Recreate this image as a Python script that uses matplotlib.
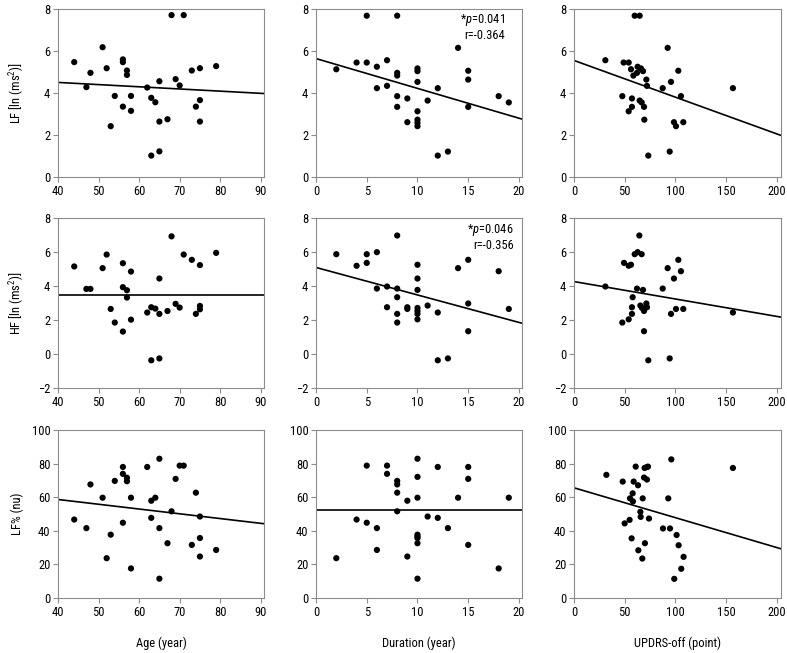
import matplotlib
matplotlib.use("Agg")
import matplotlib.pyplot as plt
from matplotlib import font_manager
import numpy as np

# ---------------- data ----------------
age_lf = [44, 47, 48, 51, 52, 53, 54, 56, 56, 56, 57, 57, 58, 58, 62, 63, 63, 64, 65, 65, 65, 67, 68, 69, 70, 71, 73, 74, 75, 75, 75, 79]
lf_age = [5.47, 4.28, 4.96, 6.18, 5.18, 2.42, 3.86, 5.6, 5.47, 3.35, 5.07, 4.86, 3.86, 3.15, 4.26, 3.77, 1.02, 3.56, 4.56, 2.64, 1.22, 2.75, 7.71, 4.66, 4.36, 7.71, 5.07, 3.35, 5.18, 3.66, 2.64, 5.28]

dur_lf = [2, 4, 5, 5, 6, 6, 7, 7, 8, 8, 8, 8, 8, 9, 9, 10, 10, 10, 10, 10, 10, 10, 11, 12, 12, 13, 14, 15, 15, 15, 18, 19]
lf_dur = [5.13, 5.45, 7.68, 5.45, 5.25, 4.23, 5.56, 4.34, 7.68, 4.96, 4.83, 3.85, 3.34, 3.74, 2.61, 5.17, 5.04, 4.53, 3.13, 2.73, 2.58, 2.42, 3.64, 4.23, 1.02, 1.21, 6.15, 5.06, 4.64, 3.34, 3.85, 3.55]

updrs_lf = [30.9, 47.6, 48.9, 53.9, 53.9, 56.2, 57.1, 57.1, 58.5, 59.8, 62.1, 62.7, 64.7, 64.7, 66.0, 66.7, 68.0, 69.0, 69.3, 71.3, 71.9, 73.2, 87.4, 92.3, 94.3, 95.6, 98.5, 100.5, 102.8, 105.4, 107.7, 156.6]
lf_updrs = [5.56, 3.85, 5.45, 5.45, 3.13, 5.13, 3.74, 3.34, 4.83, 7.68, 4.96, 5.25, 7.68, 3.64, 5.17, 3.55, 5.04, 3.34, 2.73, 4.64, 4.34, 1.02, 4.23, 6.15, 1.21, 4.53, 2.61, 2.42, 5.06, 3.85, 2.61, 4.23]

age_hf = [44, 47, 48, 51, 52, 53, 54, 56, 56, 56, 57, 57, 58, 58, 62, 63, 63, 64, 65, 65, 65, 67, 68, 69, 70, 71, 73, 74, 75, 75, 75, 79]
hf_age = [5.15, 3.83, 3.83, 5.05, 5.85, 2.65, 1.85, 5.34, 3.93, 1.32, 3.75, 3.32, 4.85, 2.02, 2.44, 2.75, -0.37, 2.67, 4.44, 2.36, -0.26, 2.53, 6.92, 2.95, 2.73, 5.85, 5.54, 2.36, 5.23, 2.83, 2.63, 5.95]

dur_hf = [2, 4, 5, 5, 6, 6, 7, 7, 8, 8, 8, 8, 8, 9, 9, 10, 10, 10, 10, 10, 10, 10, 11, 12, 12, 13, 14, 15, 15, 15, 18, 19]
hf_dur = [5.87, 5.19, 5.87, 5.36, 5.99, 3.85, 3.97, 2.75, 6.97, 3.85, 3.34, 2.36, 1.85, 2.75, 2.65, 5.25, 4.44, 3.77, 2.71, 2.53, 2.36, 2.04, 2.85, 2.44, -0.37, -0.26, 5.05, 5.54, 2.97, 1.34, 4.87, 2.65]

updrs_hf = [30.9, 47.6, 49.3, 53.9, 53.9, 56.2, 57.1, 57.1, 57.8, 59.8, 62.1, 62.7, 64.4, 65.4, 66.7, 67.0, 68.0, 69.0, 69.0, 71.3, 71.9, 73.2, 87.4, 92.3, 94.3, 95.6, 98.5, 100.5, 102.8, 105.4, 107.7, 156.6]
hf_updrs = [3.97, 1.85, 5.36, 2.04, 5.19, 5.25, 2.36, 2.75, 3.34, 5.87, 3.85, 5.99, 6.97, 2.85, 5.87, 2.71, 3.77, 2.53, 1.34, 2.97, 2.75, -0.37, 3.85, 5.05, -0.26, 2.36, 4.44, 2.65, 5.54, 4.87, 2.65, 2.44]

age_pct = [44, 47, 48, 51, 52, 53, 54, 56, 56, 56, 57, 57, 58, 58, 62, 63, 63, 64, 65, 65, 65, 67, 68, 69, 70, 71, 73, 74, 75, 75, 75, 79]
pct_age = [46.7, 41.6, 67.6, 59.7, 23.7, 37.7, 69.7, 78.0, 73.9, 44.8, 71.6, 69.5, 59.7, 17.6, 78.0, 57.9, 47.7, 59.7, 82.9, 41.6, 11.5, 32.6, 51.6, 70.9, 78.8, 78.8, 31.6, 62.7, 48.5, 35.7, 24.7, 28.6]

dur_pct = [2, 4, 5, 5, 6, 6, 7, 7, 8, 8, 8, 8, 9, 9, 10, 10, 10, 10, 10, 10, 10, 10, 11, 12, 12, 13, 14, 15, 15, 15, 18, 19]
pct_dur = [23.7, 46.7, 78.8, 44.8, 41.6, 28.6, 78.8, 73.9, 69.7, 67.6, 62.7, 51.6, 57.9, 24.7, 82.9, 72.1, 59.7, 37.7, 36.5, 35.7, 32.6, 11.5, 48.5, 78.0, 47.7, 41.6, 59.7, 78.0, 70.9, 31.6, 17.6, 59.7]

updrs_pct = [31.9, 48.0, 49.9, 54.8, 55.2, 56.8, 57.8, 58.1, 58.8, 60.8, 63.1, 63.4, 65.4, 65.7, 67.3, 67.7, 69.0, 69.6, 69.9, 71.9, 71.9, 72.9, 73.9, 87.7, 92.9, 94.6, 95.9, 98.8, 101.1, 103.1, 105.7, 108.0, 156.6]
pct_updrs = [73.3, 69.3, 44.4, 46.5, 59.3, 35.5, 62.3, 57.5, 69.3, 78.2, 67.1, 28.4, 51.3, 48.3, 23.5, 59.3, 71.7, 77.4, 32.6, 70.5, 78.0, 78.2, 47.3, 41.4, 59.3, 41.4, 82.5, 11.4, 37.5, 31.4, 17.4, 24.5, 77.4]

# fitted lines: (intercept at x=0, slope)
fit_lines = [
    [(4.92, -0.0104), (5.64, -0.142), (5.55, -0.0175)],
    [(3.46, 0.0), (5.09, -0.1616), (4.26, -0.01025)],
    [(70.0, -0.284), (52.4, 0.0), (65.6, -0.178)],
]

annotations = {(0, 1): ("0.041", "-0.364", 18.6, 7.14),
               (1, 1): ("0.046", "-0.356", 19.5, 6.87)}

row_labels = ["LF [ln (ms$^{2}$)]", "HF [ln (ms$^{2}$)]", "LF% (nu)"]
col_labels = ["Age (year)", "Duration (year)", "UPDRS-off (point)"]
x_ticks = [[40, 50, 60, 70, 80, 90], [0, 5, 10, 15, 20], [0, 50, 100, 150, 200]]
y_ticks = [[0, 2, 4, 6, 8], [-2, 0, 2, 4, 6, 8], [0, 20, 40, 60, 80, 100]]
x_lims = [(40, 90.8), (0, 20.3), (0, 204)]
y_lims = [(0, 8), (-2, 8), (0, 100)]

panels = [
    [(age_lf, lf_age), (dur_lf, lf_dur), (updrs_lf, lf_updrs)],
    [(age_hf, hf_age), (dur_hf, hf_dur), (updrs_hf, hf_updrs)],
    [(age_pct, pct_age), (dur_pct, pct_dur), (updrs_pct, pct_updrs)],
]

# ---------------- fonts ----------------
available = {f.name for f in font_manager.fontManager.ttflist}
fam = "Liberation Sans"
for cand in ["Liberation Sans Narrow", "Roboto Condensed", "Open Sans Condensed", "Liberation Sans"]:
    if cand in available:
        fam = cand
        break
plt.rcParams["font.family"] = [fam, "DejaVu Sans"]
plt.rcParams["mathtext.fontset"] = "custom"
plt.rcParams["mathtext.rm"] = fam
plt.rcParams["mathtext.it"] = fam + ":italic"

W, H = 787, 653
fig = plt.figure(figsize=(W / 100, H / 100), dpi=100)

col_px = [(58, 264), (316, 522), (574, 781)]
row_px = [(9, 177), (218, 388), (430, 598)]
spine_col = "#8c8c8c"
fs = 9

for r in range(3):
    for c in range(3):
        l, rr = col_px[c]
        t, b = row_px[r]
        ax = fig.add_axes([l / W, 1 - b / H, (rr - l) / W, (b - t) / H])
        xs, ys = panels[r][c]
        ax.scatter(xs, ys, s=20, color="black", edgecolors="none", zorder=3)
        a, m = fit_lines[r][c]
        xl = np.array(x_lims[c])
        ax.plot(xl, a + m * xl, color="black", lw=1.2, zorder=2)
        ax.set_xlim(*x_lims[c])
        ax.set_ylim(*y_lims[r])
        ax.set_xticks(x_ticks[c])
        ax.set_yticks(y_ticks[r])
        for s in ax.spines.values():
            s.set_color(spine_col)
            s.set_linewidth(0.8)
        ax.tick_params(direction="out", length=3.5, width=0.8, color=spine_col,
                       labelsize=fs, pad=2)
        if (r, c) in annotations:
            pv, rv, tx, ty = annotations[(r, c)]
            ax.text(tx, ty, "*$\\mathit{p}$=" + pv + "\nr=" + rv, ha="right", va="center",
                    multialignment="right", fontsize=fs, linespacing=1.05)

for r in range(3):
    t, b = row_px[r]
    fig.text(17 / W, 1 - (t + b) / 2 / H, row_labels[r], rotation=90,
             ha="center", va="center", fontsize=fs)
for c in range(3):
    l, rr = col_px[c]
    fig.text((l + rr) / 2 / W, 1 - 643 / H, col_labels[c], ha="center", va="center", fontsize=fs)

fig.savefig("out.png", dpi=100)
